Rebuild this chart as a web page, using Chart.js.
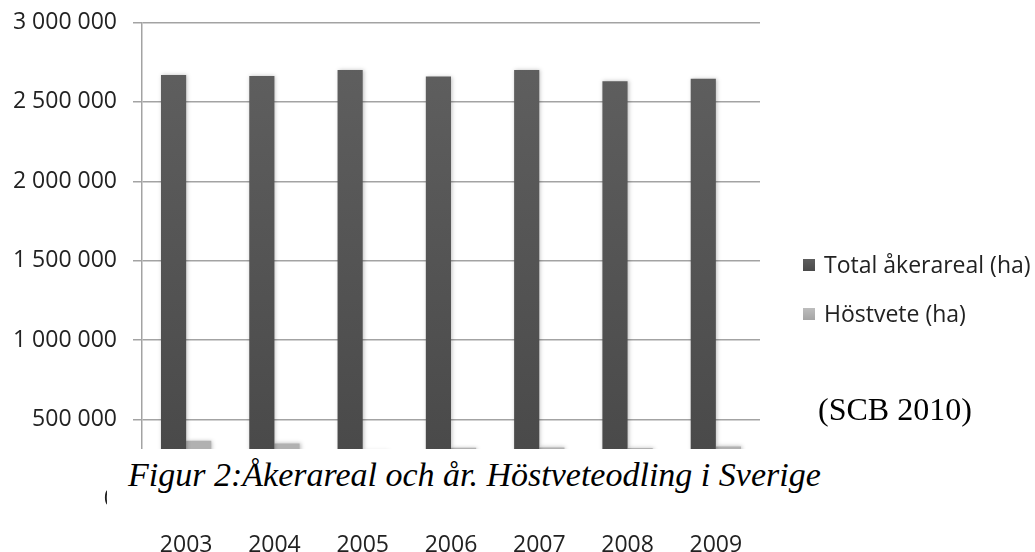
<!DOCTYPE html>
<html>
<head>
<meta charset="utf-8">
<script src="https://cdn.jsdelivr.net/npm/chart.js@4/dist/chart.umd.min.js"></script>
<style>
  html, body { margin: 0; padding: 0; background: #fff; }
  #wrap { position: relative; width: 1035px; height: 552px; overflow: hidden; }
  canvas { position: absolute; left: 0; top: 0; }
  .cover { position: absolute; left: 106.5px; top: 448.5px; width: 929px; height: 80px; background: #fff; }
  .caption { position: absolute; left: 128px; top: 458px; font-family: "Liberation Serif", serif; font-style: italic; font-size: 34px; color: #000; white-space: nowrap; line-height: 1; }
  .source { position: absolute; left: 818px; top: 393px; font-family: "Liberation Serif", serif; font-size: 32px; color: #000; white-space: nowrap; line-height: 1; }
  .leg { position: absolute; left: 803px; font-family: "Open Sans", sans-serif; font-size: 23px; color: #222; white-space: nowrap; line-height: 1; }
  .leg span.sw { display: inline-block; width: 12px; height: 12px; margin-right: 9px; vertical-align: 2px; }
</style>
</head>
<body>
<div id="wrap">
  <canvas id="c" width="1035" height="552"></canvas>
  <div class="cover"></div>
  <div class="caption">Figur 2:Åkerareal och år. Höstveteodling i Sverige</div>
  <div class="source">(SCB 2010)</div>
  <div class="leg" style="top:253px"><span class="sw" style="background:linear-gradient(#5e5e5e,#4a4a4a)"></span>Total åkerareal (ha)</div>
  <div class="leg" style="top:302px"><span class="sw" style="background:linear-gradient(#bdbdbd,#a5a5a5)"></span>Höstvete (ha)</div>
</div>
<script>
const years = ["2003", "2004", "2005", "2006", "2007", "2008", "2009"];
const totalAkerareal = [2669000, 2663000, 2701000, 2660000, 2701000, 2630000, 2646000];
const hostvete = [366000, 350000, 300000, 322000, 325000, 321000, 331000];
const seriesNames = ["Total åkerareal (ha)", "Höstvete (ha)"];
const yTicks = [0, 500000, 1000000, 1500000, 2000000, 2500000, 3000000];

function fmt(v) {
  return String(v).replace(/\B(?=(\d{3})+(?!\d))/g, " ");
}

function darkGrad(ctx) {
  const ch = ctx.chart;
  const a = ch.chartArea;
  if (!a) return "#555555";
  const g = ch.ctx.createLinearGradient(0, a.top, 0, a.bottom);
  g.addColorStop(0, "#616161");
  g.addColorStop(1, "#474747");
  return g;
}

const shadowPlugin = {
  id: "barShadow",
  beforeDatasetsDraw(chart) {
    const c = chart.ctx;
    c.save();
    c.shadowColor = "rgba(0,0,0,0.25)";
    c.shadowBlur = 4;
    c.shadowOffsetX = 1;
    c.shadowOffsetY = 0;
  },
  afterDatasetsDraw(chart) {
    chart.ctx.restore();
  }
};

new Chart(document.getElementById("c"), {
  type: "bar",
  data: {
    labels: years,
    datasets: [
      { label: seriesNames[0], data: totalAkerareal, backgroundColor: darkGrad, borderWidth: 0 },
      { label: seriesNames[1], data: hostvete, backgroundColor: "#b1b1b1", borderWidth: 0 }
    ]
  },
  plugins: [shadowPlugin],
  options: {
    responsive: false,
    animation: false,
    devicePixelRatio: 1,
    layout: { padding: { left: 0, right: 275, top: 22.5, bottom: 0 } },
    plugins: { legend: { display: false }, tooltip: { enabled: false } },
    datasets: { bar: { categoryPercentage: 0.57, barPercentage: 1.0 } },
    scales: {
      x: {
        grid: { display: false, drawTicks: false },
        border: { display: true, color: "#a0a0a0", width: 1.5 },
        ticks: { padding: 33, color: "#222", font: { family: "Open Sans", size: 23 } },
        afterFit(s) { s.height = 53; }
      },
      y: {
        min: 0, max: 3000000,
        afterBuildTicks(s) { s.ticks = yTicks.map(v => ({ value: v })); },
        grid: { color: "#a3a3a3", lineWidth: 1.5, tickLength: 9 },
        border: { display: true, color: "#a3a3a3", width: 1.5 },
        ticks: { padding: 16, color: "#222", font: { family: "Open Sans", size: 23 }, callback: v => fmt(v) },
        afterFit(s) { s.width = 142; s.paddingTop = 0; s.paddingBottom = 0; }
      }
    }
  }
});
</script>
</body>
</html>
